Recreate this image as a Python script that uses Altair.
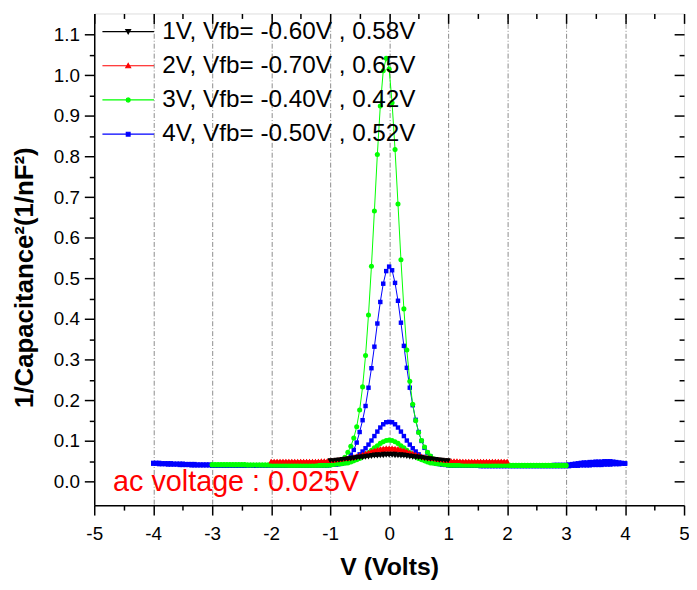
import altair as alt
import pandas as pd

# ---------------- data ----------------
LABELS = ["1V, Vfb= -0.60V , 0.58V", "2V, Vfb= -0.70V , 0.65V",
          "3V, Vfb= -0.40V , 0.42V", "4V, Vfb= -0.50V , 0.52V"]
COLORS = ["#000000", "#ff0000", "#00ff00", "#0000ff"]
MARKERS = ["triangle-down", "triangle-up", "circle", "square"]
MSIZE = [26, 26, 26, 20]
STEP = 0.05

# 1V sweep (-1 .. 1)
BLACK_UP_MID = [0.052, 0.052, 0.053, 0.054, 0.055, 0.056, 0.057, 0.058, 0.059, 0.060, 0.061,
                0.062, 0.063, 0.064, 0.065, 0.066, 0.067, 0.067, 0.068, 0.068, 0.068,
                0.068, 0.068, 0.067, 0.067, 0.066, 0.065, 0.064, 0.063, 0.062, 0.061,
                0.060, 0.059, 0.058, 0.057, 0.056, 0.055, 0.054, 0.053, 0.052, 0.052]
BLACK_DN_MID = [0.051, 0.051, 0.052, 0.052, 0.053, 0.054, 0.054, 0.055, 0.056, 0.057, 0.058,
                0.058, 0.059, 0.060, 0.061, 0.062, 0.062, 0.063, 0.063, 0.064, 0.064,
                0.064, 0.063, 0.063, 0.062, 0.062, 0.061, 0.060, 0.059, 0.058, 0.058,
                0.057, 0.056, 0.055, 0.054, 0.054, 0.053, 0.052, 0.052, 0.051, 0.051]

# 2V sweep (-2 .. 2)
RED_UP_LEFT = [0.051, 0.051, 0.051, 0.051, 0.051, 0.051, 0.051, 0.051, 0.051, 0.051,
               0.051, 0.051, 0.051, 0.051, 0.051, 0.051, 0.051, 0.052, 0.052, 0.052]
RED_UP_MID = [0.053, 0.053, 0.054, 0.055, 0.056, 0.057, 0.058, 0.060, 0.062, 0.064, 0.066,
              0.068, 0.071, 0.073, 0.076, 0.078, 0.080, 0.082, 0.083, 0.084, 0.084,
              0.084, 0.083, 0.082, 0.080, 0.078, 0.076, 0.073, 0.071, 0.068, 0.066,
              0.064, 0.062, 0.060, 0.058, 0.057, 0.056, 0.055, 0.054, 0.053, 0.053]
RED_UP_RIGHT = [0.052, 0.052, 0.052, 0.051, 0.051, 0.051, 0.051, 0.051, 0.051, 0.051,
                0.051, 0.051, 0.051, 0.051, 0.051, 0.051, 0.051, 0.051, 0.051, 0.051]
RED_DN_LEFT = [0.050, 0.050, 0.050, 0.050, 0.050, 0.050, 0.050, 0.050, 0.050, 0.050,
               0.050, 0.050, 0.050, 0.050, 0.050, 0.050, 0.051, 0.051, 0.051, 0.051]
RED_DN_MID = [0.052, 0.052, 0.053, 0.054, 0.055, 0.056, 0.057, 0.058, 0.059, 0.061, 0.063,
              0.065, 0.067, 0.069, 0.071, 0.073, 0.075, 0.077, 0.078, 0.079, 0.079,
              0.079, 0.078, 0.077, 0.075, 0.073, 0.071, 0.069, 0.067, 0.065, 0.063,
              0.061, 0.059, 0.058, 0.057, 0.056, 0.055, 0.054, 0.053, 0.052, 0.052]
RED_DN_RIGHT = [0.051, 0.051, 0.051, 0.051, 0.050, 0.050, 0.050, 0.050, 0.050, 0.050,
                0.050, 0.050, 0.050, 0.050, 0.050, 0.050, 0.050, 0.050, 0.050, 0.050]

# 3V sweep (-3 .. 3)
GREEN_UP_LEFT = [0.042, 0.042, 0.042, 0.042, 0.042, 0.042, 0.042, 0.042, 0.042, 0.042,
                 0.042, 0.042, 0.041, 0.041, 0.041, 0.041, 0.041, 0.041, 0.041, 0.041,
                 0.041, 0.041, 0.041, 0.041, 0.041, 0.041, 0.040, 0.040, 0.040, 0.040,
                 0.040, 0.040, 0.040, 0.040, 0.040, 0.040, 0.040, 0.040, 0.040, 0.040]
GREEN_UP_MID = [0.041, 0.042, 0.044, 0.047, 0.052, 0.060, 0.072, 0.087, 0.107, 0.135, 0.176,
                0.233, 0.310, 0.410, 0.530, 0.666, 0.805, 0.924, 1.011, 1.042, 1.015,
                0.932, 0.817, 0.683, 0.546, 0.425, 0.324, 0.247, 0.190, 0.150, 0.121,
                0.101, 0.085, 0.072, 0.063, 0.056, 0.051, 0.047, 0.044, 0.042, 0.041]
GREEN_UP_RIGHT = [0.040, 0.040, 0.040, 0.040, 0.040, 0.040, 0.040, 0.040, 0.040, 0.040,
                  0.040, 0.040, 0.040, 0.040, 0.040, 0.040, 0.040, 0.040, 0.040, 0.040,
                  0.039, 0.039, 0.039, 0.039, 0.039, 0.039, 0.039, 0.039, 0.039, 0.039,
                  0.039, 0.039, 0.039, 0.039, 0.039, 0.039, 0.039, 0.039, 0.039, 0.039]
GREEN_DN_LEFT = [0.041, 0.041, 0.041, 0.041, 0.041, 0.041, 0.041, 0.041, 0.041, 0.041,
                 0.041, 0.041, 0.041, 0.041, 0.041, 0.041, 0.041, 0.041, 0.041, 0.041,
                 0.040, 0.040, 0.040, 0.040, 0.040, 0.040, 0.040, 0.040, 0.040, 0.040,
                 0.040, 0.040, 0.040, 0.040, 0.040, 0.040, 0.040, 0.040, 0.041, 0.041]
GREEN_DN_MID = [0.041, 0.042, 0.043, 0.043, 0.044, 0.045, 0.046, 0.048, 0.051, 0.054, 0.057,
                0.061, 0.066, 0.071, 0.077, 0.083, 0.088, 0.094, 0.098, 0.101, 0.102,
                0.101, 0.098, 0.094, 0.088, 0.083, 0.077, 0.071, 0.066, 0.061, 0.057,
                0.054, 0.051, 0.048, 0.046, 0.045, 0.044, 0.043, 0.043, 0.042, 0.041]
GREEN_DN_RIGHT = [0.041, 0.041, 0.041, 0.041, 0.041, 0.041, 0.041, 0.041, 0.041, 0.041,
                  0.040, 0.040, 0.040, 0.040, 0.040, 0.040, 0.040, 0.040, 0.040, 0.040,
                  0.040, 0.040, 0.040, 0.040, 0.040, 0.040, 0.040, 0.040, 0.040, 0.040,
                  0.040, 0.040, 0.040, 0.040, 0.040, 0.040, 0.040, 0.040, 0.040, 0.040]

# 4V sweep (-4 .. 4)
BLUE_UP_LEFT = [0.046, 0.046, 0.046, 0.045, 0.045, 0.045, 0.045, 0.044, 0.044, 0.044,
                0.044, 0.043, 0.043, 0.043, 0.043, 0.042, 0.042, 0.042, 0.042, 0.042,
                0.040, 0.040, 0.040, 0.040, 0.040, 0.040, 0.040, 0.040, 0.040, 0.040,
                0.039, 0.039, 0.039, 0.039, 0.039, 0.039, 0.039, 0.039, 0.039, 0.039,
                0.039, 0.039, 0.039, 0.039, 0.039, 0.039, 0.039, 0.039, 0.039, 0.039,
                0.039, 0.039, 0.039, 0.039, 0.039, 0.039, 0.039, 0.039, 0.040, 0.040]
BLUE_UP_MID = [0.041, 0.042, 0.043, 0.045, 0.047, 0.051, 0.057, 0.066, 0.078, 0.096, 0.122,
               0.151, 0.186, 0.231, 0.279, 0.332, 0.389, 0.442, 0.487, 0.518, 0.529,
               0.520, 0.489, 0.445, 0.391, 0.334, 0.280, 0.231, 0.188, 0.152, 0.122,
               0.100, 0.083, 0.071, 0.062, 0.055, 0.050, 0.046, 0.043, 0.041, 0.040]
BLUE_UP_RIGHT = [0.039, 0.039, 0.039, 0.039, 0.039, 0.039, 0.039, 0.039, 0.039, 0.039,
                 0.038, 0.038, 0.038, 0.038, 0.038, 0.038, 0.038, 0.038, 0.038, 0.038,
                 0.038, 0.038, 0.038, 0.038, 0.038, 0.038, 0.038, 0.038, 0.038, 0.038,
                 0.038, 0.038, 0.038, 0.038, 0.038, 0.038, 0.038, 0.038, 0.038, 0.038,
                 0.038, 0.039, 0.039, 0.039, 0.040, 0.040, 0.040, 0.040, 0.041, 0.041,
                 0.041, 0.041, 0.042, 0.042, 0.042, 0.043, 0.043, 0.043, 0.044, 0.044]
BLUE_DN_LEFT = [0.044, 0.044, 0.043, 0.043, 0.043, 0.042, 0.042, 0.042, 0.042, 0.041,
                0.041, 0.041, 0.041, 0.040, 0.040, 0.040, 0.040, 0.040, 0.040, 0.040,
                0.039, 0.039, 0.039, 0.039, 0.039, 0.039, 0.039, 0.039, 0.039, 0.039,
                0.039, 0.039, 0.039, 0.039, 0.039, 0.039, 0.039, 0.039, 0.039, 0.039,
                0.039, 0.039, 0.039, 0.039, 0.039, 0.039, 0.039, 0.039, 0.039, 0.039,
                0.039, 0.039, 0.039, 0.039, 0.039, 0.039, 0.039, 0.040, 0.040, 0.040]
BLUE_DN_MID = [0.041, 0.042, 0.042, 0.043, 0.044, 0.046, 0.049, 0.052, 0.056, 0.061, 0.067,
               0.074, 0.082, 0.091, 0.101, 0.112, 0.123, 0.133, 0.141, 0.146, 0.147,
               0.146, 0.141, 0.133, 0.123, 0.112, 0.101, 0.091, 0.082, 0.074, 0.067,
               0.061, 0.056, 0.052, 0.049, 0.046, 0.044, 0.043, 0.042, 0.042, 0.041]
BLUE_DN_RIGHT = [0.040, 0.040, 0.040, 0.040, 0.040, 0.040, 0.040, 0.040, 0.040, 0.040,
                 0.039, 0.039, 0.039, 0.039, 0.039, 0.039, 0.039, 0.039, 0.039, 0.039,
                 0.039, 0.039, 0.039, 0.039, 0.039, 0.039, 0.039, 0.039, 0.039, 0.039,
                 0.040, 0.040, 0.040, 0.040, 0.040, 0.041, 0.041, 0.041, 0.041, 0.041,
                 0.042, 0.043, 0.044, 0.045, 0.046, 0.047, 0.047, 0.048, 0.048, 0.049,
                 0.049, 0.049, 0.050, 0.050, 0.050, 0.049, 0.048, 0.047, 0.046, 0.045]

X_TICKS = [-5, -4.5, -4, -3.5, -3, -2.5, -2, -1.5, -1, -0.5, 0,
           0.5, 1, 1.5, 2, 2.5, 3, 3.5, 4, 4.5, 5]
Y_TICKS = [0.0, 0.05, 0.1, 0.15, 0.2, 0.25, 0.3, 0.35, 0.4, 0.45, 0.5, 0.55,
           0.6, 0.65, 0.7, 0.75, 0.8, 0.85, 0.9, 0.95, 1.0, 1.05, 1.1]
X_DOMAIN = [-5, 5]
Y_DOMAIN = [-0.058, 1.152]

ANN_TEXT = ["ac voltage : 0.025V"]
ANN_X = [-4.68]
ANN_Y = [-0.022]

# ---------------- table ----------------
rows = []


def add(series, branch, left, mid, right):
    pts = []
    n = len(left)
    for i, v in enumerate(left):
        pts.append((round(-1.05 - STEP * (n - 1 - i), 2), v))
    for i, v in enumerate(mid):
        pts.append((round(-1.0 + STEP * i, 2), v))
    for i, v in enumerate(right):
        pts.append((round(1.05 + STEP * i, 2), v))
    for k, (x, y) in enumerate(pts):
        rows.append({"series": series, "branch": series + branch, "x": x, "y": y, "o": k})


add(LABELS[0], "a", [], BLACK_UP_MID, [])
add(LABELS[0], "b", [], BLACK_DN_MID, [])
add(LABELS[1], "a", RED_UP_LEFT, RED_UP_MID, RED_UP_RIGHT)
add(LABELS[1], "b", RED_DN_LEFT, RED_DN_MID, RED_DN_RIGHT)
add(LABELS[2], "a", GREEN_UP_LEFT, GREEN_UP_MID, GREEN_UP_RIGHT)
add(LABELS[2], "b", GREEN_DN_LEFT, GREEN_DN_MID, GREEN_DN_RIGHT)
add(LABELS[3], "a", BLUE_UP_LEFT, BLUE_UP_MID, BLUE_UP_RIGHT)
add(LABELS[3], "b", BLUE_DN_LEFT, BLUE_DN_MID, BLUE_DN_RIGHT)
df = pd.DataFrame(rows)
ann = pd.DataFrame({"x": ANN_X, "y": ANN_Y, "t": ANN_TEXT})

W, H = 595, 496
FONT = "Liberation Sans"

xscale = alt.Scale(domain=X_DOMAIN, nice=False, zero=False)
yscale = alt.Scale(domain=Y_DOMAIN, nice=False, zero=False)
cscale = alt.Scale(domain=LABELS, range=COLORS)

x_major = "abs(datum.value - round(datum.value)) < 0.001"
y_major = "abs(datum.value * 10 - round(datum.value * 10)) < 0.01"

x_axis = alt.Axis(
    orient="bottom", values=X_TICKS, title="V (Volts)",
    labelExpr=f"{x_major} ? '' + datum.value : ''",
    tickSize={"condition": {"test": x_major, "value": 10}, "value": 5},
    tickWidth=1.5, tickColor="black", domainColor="black", domainWidth=1.5,
    labelFont=FONT, labelFontSize=19, labelColor="black", labelPadding=10,
    labelOverlap=False, labelFlush=False, labelBound=False,
    titleFont=FONT, titleFontSize=25, titleFontWeight="bold", titleColor="black",
    titlePadding=11,
    grid=True, gridColor="#8c8c8c", gridWidth=1, gridDash=[5, 2, 1, 2],
    gridOpacity={"condition": {"test": f"{x_major} && abs(datum.value) < 4.5", "value": 1}, "value": 0},
    zindex=0,
)
y_axis = alt.Axis(
    orient="left", values=Y_TICKS, title="1/Capacitance²(1/nF²)",
    labelExpr=f"{y_major} ? format(datum.value, '.1f') : ''",
    tickSize={"condition": {"test": y_major, "value": 10}, "value": 5},
    tickWidth=1.5, tickColor="black", domainColor="black", domainWidth=1.5,
    labelFont=FONT, labelFontSize=19, labelColor="black", labelPadding=5,
    labelOverlap=False, labelBound=False,
    titleFont=FONT, titleFontSize=26, titleFontWeight="bold", titleColor="black",
    titlePadding=16, titleY=266, grid=False, zindex=0,
)
x_inner = alt.Axis(
    orient="bottom", offset=-H, values=X_TICKS, title=None, labels=False, domain=False,
    grid=False, tickSize={"condition": {"test": x_major, "value": 10}, "value": 5},
    tickWidth=1.5, tickColor="black",
)
y_inner = alt.Axis(
    orient="left", offset=-W, values=Y_TICKS, title=None, labels=False, domain=False,
    grid=False, tickSize={"condition": {"test": y_major, "value": 10}, "value": 5},
    tickWidth=1.5, tickColor="black",
)

# legend symbols: a line with the series marker in its middle
P_LINE = "M-2.6,0H2.6"
PATHS = [
    P_LINE + "M-0.24,-0.2L0.24,-0.2L0,0.23Z",
    P_LINE + "M-0.24,0.2L0.24,0.2L0,-0.23Z",
    P_LINE + "M0.21,0L0.15,0.15L0,0.21L-0.15,0.15L-0.21,0L-0.15,-0.15L0,-0.21L0.15,-0.15Z",
    P_LINE + "M-0.19,-0.19H0.19V0.19H-0.19Z",
]
shape_expr = (
    f"datum.value == '{LABELS[0]}' ? '{PATHS[0]}' : "
    f"datum.value == '{LABELS[1]}' ? '{PATHS[1]}' : "
    f"datum.value == '{LABELS[2]}' ? '{PATHS[2]}' : '{PATHS[3]}'"
)
legend = alt.Legend(
    orient="none", legendX=22, legendY=6, title=None, padding=0,
    labelFont=FONT, labelFontSize=24.5, labelColor="black", labelLimit=500,
    labelOffset=22, rowPadding=9.5, symbolSize=400, symbolStrokeWidth=1.2,
    symbolOpacity=1,
    symbolType={"expr": shape_expr},
    symbolStrokeColor={"expr": "scale('color', datum.value)"},
    symbolFillColor={"expr": "scale('color', datum.value)"},
)


def series_layer(k, xa, ya):
    return alt.Chart(df).transform_filter(alt.datum.series == LABELS[k]).mark_line(
        strokeWidth=1,
        point=alt.OverlayMarkDef(filled=True, shape=MARKERS[k], size=MSIZE[k], opacity=1),
    ).encode(
        x=alt.X("x:Q", scale=xscale, axis=xa),
        y=alt.Y("y:Q", scale=yscale, axis=ya),
        color=alt.Color("series:N", scale=cscale, legend=legend),
        detail="branch:N",
        order="o:Q",
    )


layers = [
    series_layer(3, x_axis, y_axis),
    series_layer(2, x_inner, y_inner),
    series_layer(1, None, None),
    series_layer(0, None, None),
]

text_layer = alt.Chart(ann).mark_text(
    align="left", baseline="alphabetic", fontSize=29, color="#ff0000", font=FONT
).encode(
    x=alt.X("x:Q", scale=xscale, axis=None),
    y=alt.Y("y:Q", scale=yscale, axis=None),
    text="t:N",
)

chart = alt.layer(*layers, text_layer).resolve_axis(
    x="independent", y="independent"
).properties(
    width=W, height=H,
    autosize=alt.AutoSizeParams(type="none"),
    padding={"left": 87, "top": 3, "right": 5, "bottom": 74},
).configure_view(stroke="black", strokeWidth=1.5).configure(font=FONT, background="white")

chart.save("out.html", embed_options={"renderer": "svg", "actions": False})
